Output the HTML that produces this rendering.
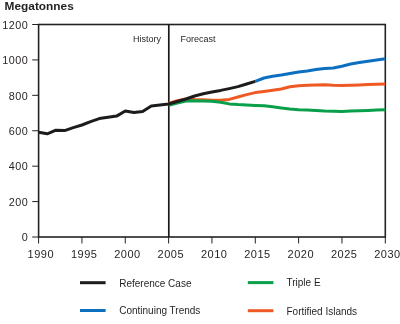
<!DOCTYPE html>
<html><head><meta charset="utf-8"><style>
html,body{margin:0;padding:0;background:#fff;width:400px;height:324px;overflow:hidden}
svg{display:block;will-change:transform}
text{font-family:"Liberation Sans", sans-serif;stroke:none}
</style></head><body>
<svg width="400" height="324" viewBox="0 0 400 324">
<text x="4.6" y="10.2" font-family="Liberation Sans, sans-serif" font-size="11" font-weight="bold" fill="#231f20" textLength="69.2" lengthAdjust="spacingAndGlyphs">Megatonnes</text>
<line x1="32.2" y1="237.00" x2="38.6" y2="237.00" stroke="#222" stroke-width="1.0"/>
<text x="28.3" y="241.20" font-family="Liberation Sans, sans-serif" font-size="10.8" letter-spacing="0.5" fill="#231f20" text-anchor="end">0</text>
<line x1="32.2" y1="201.58" x2="38.6" y2="201.58" stroke="#222" stroke-width="1.0"/>
<text x="28.3" y="205.78" font-family="Liberation Sans, sans-serif" font-size="10.8" letter-spacing="0.5" fill="#231f20" text-anchor="end">200</text>
<line x1="32.2" y1="166.17" x2="38.6" y2="166.17" stroke="#222" stroke-width="1.0"/>
<text x="28.3" y="170.37" font-family="Liberation Sans, sans-serif" font-size="10.8" letter-spacing="0.5" fill="#231f20" text-anchor="end">400</text>
<line x1="32.2" y1="130.75" x2="38.6" y2="130.75" stroke="#222" stroke-width="1.0"/>
<text x="28.3" y="134.95" font-family="Liberation Sans, sans-serif" font-size="10.8" letter-spacing="0.5" fill="#231f20" text-anchor="end">600</text>
<line x1="32.2" y1="95.33" x2="38.6" y2="95.33" stroke="#222" stroke-width="1.0"/>
<text x="28.3" y="99.53" font-family="Liberation Sans, sans-serif" font-size="10.8" letter-spacing="0.5" fill="#231f20" text-anchor="end">800</text>
<line x1="32.2" y1="59.92" x2="38.6" y2="59.92" stroke="#222" stroke-width="1.0"/>
<text x="28.3" y="64.12" font-family="Liberation Sans, sans-serif" font-size="10.8" letter-spacing="0.5" fill="#231f20" text-anchor="end">1000</text>
<line x1="32.2" y1="24.50" x2="38.6" y2="24.50" stroke="#222" stroke-width="1.0"/>
<text x="28.3" y="28.70" font-family="Liberation Sans, sans-serif" font-size="10.8" letter-spacing="0.5" fill="#231f20" text-anchor="end">1200</text>
<line x1="38.60" y1="237.00" x2="38.60" y2="243.5" stroke="#222" stroke-width="1.0"/>
<text x="40.80" y="258.4" font-family="Liberation Sans, sans-serif" font-size="11" letter-spacing="0.5" fill="#231f20" text-anchor="middle">1990</text>
<line x1="81.94" y1="237.00" x2="81.94" y2="243.5" stroke="#222" stroke-width="1.0"/>
<text x="84.14" y="258.4" font-family="Liberation Sans, sans-serif" font-size="11" letter-spacing="0.5" fill="#231f20" text-anchor="middle">1995</text>
<line x1="125.28" y1="237.00" x2="125.28" y2="243.5" stroke="#222" stroke-width="1.0"/>
<text x="127.48" y="258.4" font-family="Liberation Sans, sans-serif" font-size="11" letter-spacing="0.5" fill="#231f20" text-anchor="middle">2000</text>
<line x1="168.61" y1="237.00" x2="168.61" y2="243.5" stroke="#222" stroke-width="1.0"/>
<text x="170.81" y="258.4" font-family="Liberation Sans, sans-serif" font-size="11" letter-spacing="0.5" fill="#231f20" text-anchor="middle">2005</text>
<line x1="211.95" y1="237.00" x2="211.95" y2="243.5" stroke="#222" stroke-width="1.0"/>
<text x="214.15" y="258.4" font-family="Liberation Sans, sans-serif" font-size="11" letter-spacing="0.5" fill="#231f20" text-anchor="middle">2010</text>
<line x1="255.29" y1="237.00" x2="255.29" y2="243.5" stroke="#222" stroke-width="1.0"/>
<text x="257.49" y="258.4" font-family="Liberation Sans, sans-serif" font-size="11" letter-spacing="0.5" fill="#231f20" text-anchor="middle">2015</text>
<line x1="298.62" y1="237.00" x2="298.62" y2="243.5" stroke="#222" stroke-width="1.0"/>
<text x="300.82" y="258.4" font-family="Liberation Sans, sans-serif" font-size="11" letter-spacing="0.5" fill="#231f20" text-anchor="middle">2020</text>
<line x1="341.96" y1="237.00" x2="341.96" y2="243.5" stroke="#222" stroke-width="1.0"/>
<text x="344.16" y="258.4" font-family="Liberation Sans, sans-serif" font-size="11" letter-spacing="0.5" fill="#231f20" text-anchor="middle">2025</text>
<line x1="385.30" y1="237.00" x2="385.30" y2="243.5" stroke="#222" stroke-width="1.0"/>
<text x="387.50" y="258.4" font-family="Liberation Sans, sans-serif" font-size="11" letter-spacing="0.5" fill="#231f20" text-anchor="middle">2030</text>
<rect x="38.60" y="24.50" width="346.70" height="212.50" fill="none" stroke="#222" stroke-width="1.6"/>
<line x1="168.8" y1="24.50" x2="168.8" y2="237.00" stroke="#1a1a1a" stroke-width="1.7"/>
<text x="133" y="42" font-family="Liberation Sans, sans-serif" font-size="9" fill="#231f20">History</text>
<text x="180.5" y="42" font-family="Liberation Sans, sans-serif" font-size="9" fill="#231f20">Forecast</text>
<polyline points="168.61,103.40 177.28,100.80 185.95,99.00 194.61,99.60 203.28,99.80 211.95,100.20 220.62,100.20 229.28,99.40 237.95,97.00 246.62,94.60 255.29,92.60 263.95,91.40 272.62,90.20 281.29,89.00 289.96,86.80 298.62,85.80 307.29,85.30 315.96,85.00 324.63,84.70 333.30,85.30 341.96,85.60 350.63,85.30 359.30,84.90 367.97,84.60 376.63,84.30 385.30,84.00" fill="none" stroke="#ef5a24" stroke-width="3" stroke-linejoin="round"/>
<polyline points="168.61,105.20 177.28,103.00 185.95,101.00 194.61,100.80 203.28,100.90 211.95,101.20 220.62,102.20 229.28,103.90 237.95,104.60 246.62,105.00 255.29,105.40 263.95,105.70 272.62,106.80 281.29,107.90 289.96,109.00 298.62,109.80 307.29,109.90 315.96,110.40 324.63,110.90 333.30,111.20 341.96,111.40 350.63,111.00 359.30,110.70 367.97,110.40 376.63,110.10 385.30,109.70" fill="none" stroke="#0a9f4a" stroke-width="3" stroke-linejoin="round"/>
<polyline points="255.29,81.40 263.95,78.00 272.62,76.20 281.29,75.00 289.96,73.40 298.62,72.00 307.29,71.00 315.96,69.60 324.63,68.40 333.30,68.00 341.96,66.20 350.63,64.00 359.30,62.40 367.97,61.20 376.63,60.00 385.30,58.80" fill="none" stroke="#0c6fbf" stroke-width="3" stroke-linejoin="round"/>
<polyline points="38.60,132.20 47.27,133.80 55.94,130.20 64.60,130.60 73.27,127.60 81.94,125.00 90.60,121.60 99.27,118.60 107.94,117.20 116.61,116.10 125.28,111.00 133.94,112.60 142.61,111.60 151.28,106.00 159.94,105.00 168.61,104.00 177.28,101.50 185.95,99.00 194.61,96.00 203.28,93.80 211.95,92.00 220.62,90.40 229.28,88.60 237.95,86.60 246.62,84.00 255.29,81.40" fill="none" stroke="#1c1c1c" stroke-width="3" stroke-linejoin="round"/>
<line x1="80" y1="282.7" x2="105.6" y2="282.7" stroke="#1c1c1c" stroke-width="3"/>
<text x="119.2" y="286.50" font-family="Liberation Sans, sans-serif" font-size="10" fill="#231f20">Reference Case</text>
<line x1="80" y1="310.5" x2="105.6" y2="310.5" stroke="#0c6fbf" stroke-width="3"/>
<text x="119.2" y="314.30" font-family="Liberation Sans, sans-serif" font-size="10" fill="#231f20">Continuing Trends</text>
<line x1="247.8" y1="282.6" x2="273.40000000000003" y2="282.6" stroke="#0a9f4a" stroke-width="3"/>
<text x="286.5" y="286.40" font-family="Liberation Sans, sans-serif" font-size="10" fill="#231f20">Triple E</text>
<line x1="247.8" y1="310.7" x2="273.40000000000003" y2="310.7" stroke="#ef5a24" stroke-width="3"/>
<text x="286.5" y="314.50" font-family="Liberation Sans, sans-serif" font-size="10" fill="#231f20">Fortified Islands</text>
</svg>
</body></html>
